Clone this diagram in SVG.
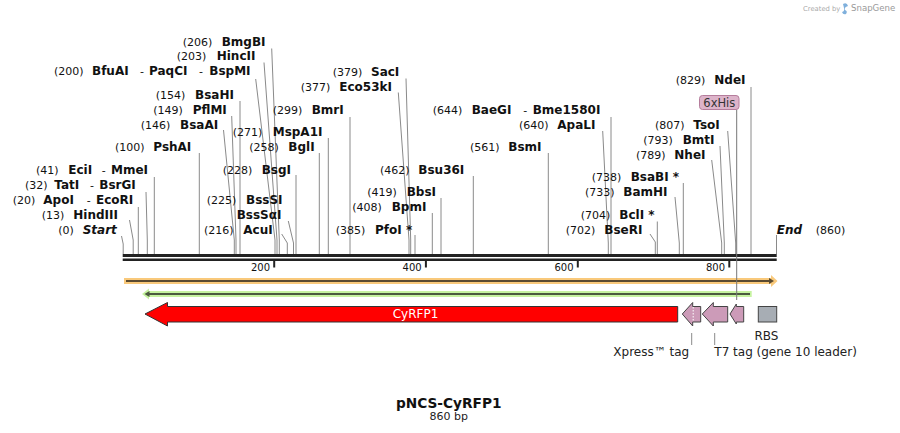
<svg xmlns="http://www.w3.org/2000/svg" width="900" height="433" viewBox="0 0 900 433">
<style>
text{font-family:"DejaVu Sans","Liberation Sans",sans-serif;fill:#111}
.n{font-size:11px}
.b{font-size:12px;font-weight:bold}
.bi{font-size:12px;font-weight:bold;font-style:italic}
.ax{font-size:10px}
.cut{stroke:#8a8a8a;stroke-width:1;fill:none}
.ft{fill:#cc9bb8;stroke:#444;stroke-width:1}
.fl{font-size:12px;fill:#222}
.tick{stroke:#222;stroke-width:2}
</style>
<rect width="900" height="433" fill="#fff"/>
<g id="credit">
<text x="803" y="11" style="font-size:6.8px;fill:#aaa">Created by</text>
<path d="M843 4 q4 -2 5 2 q-4 1 -3 4 q3 1 1 4 q-3 1 -4 -2 q3 -1 2 -4 z" fill="#7fb0dc"/>
<text x="851" y="11" style="font-size:8.6px;fill:#9a9a9a">SnapGene</text>
</g>
<g id="connectors">
<polyline class="cut" points="121.5,236 123.2,244 123.2,254"/>
<polyline class="cut" points="129.5,220 133.2,240 133.2,254"/>
<polyline class="cut" points="138.3,207 138.3,254"/>
<polyline class="cut" points="146,192 147.3,240 147.3,254"/>
<polyline class="cut" points="154.3,177 154.3,254"/>
<polyline class="cut" points="199.3,153 199.3,254"/>
<polyline class="cut" points="223.5,130 234.3,240 234.3,254"/>
<polyline class="cut" points="231.7,116 236,240 236,254"/>
<polyline class="cut" points="240,101 240,254"/>
<polyline class="cut" points="255.7,79 275,240 275,254"/>
<polyline class="cut" points="264,62.5 277,240 277,254"/>
<polyline class="cut" points="271.7,48.5 279.3,240 279.3,254"/>
<polyline class="cut" points="281.7,234 287.3,243 287.3,254"/>
<polyline class="cut" points="288.3,221 293.5,243 293.5,254"/>
<polyline class="cut" points="296,175 296,254"/>
<polyline class="cut" points="319.3,153 319.3,254"/>
<polyline class="cut" points="328.3,138 328.3,254"/>
<polyline class="cut" points="350,117 350,254"/>
<polyline class="cut" points="398.3,92.5 409,240 409,254"/>
<polyline class="cut" points="406,78.5 410.7,240 410.7,254"/>
<polyline class="cut" points="415,235 415,254"/>
<polyline class="cut" points="432.3,213 432.3,254"/>
<polyline class="cut" points="441,198 441,254"/>
<polyline class="cut" points="473.3,176 473.3,254"/>
<polyline class="cut" points="548.3,153 548.3,254"/>
<polyline class="cut" points="602.7,131 608.3,243 608.3,254"/>
<polyline class="cut" points="611,117 611,254"/>
<polyline class="cut" points="650,234 655.3,242 655.3,254"/>
<polyline class="cut" points="657.3,221.5 657.3,254"/>
<polyline class="cut" points="675,197 679.3,243 679.3,254"/>
<polyline class="cut" points="683.3,183 683.3,254"/>
<polyline class="cut" points="711.7,160 721.7,243 721.7,254"/>
<polyline class="cut" points="720,146 724.3,243 724.3,254"/>
<polyline class="cut" points="727.7,131 735.7,243 735.7,254"/>
<polyline class="cut" points="751,87 751,254"/>
<polyline class="cut" points="776.5,235 776.5,254"/>
<line class="cut" x1="691.7" y1="333" x2="691.7" y2="345"/>
<line class="cut" x1="714.7" y1="333" x2="714.7" y2="345"/>
</g>
<g id="backbone">
<rect x="122.7" y="254" width="654" height="3" fill="#222"/>
<rect x="122.7" y="258.5" width="654" height="2.5" fill="#222"/>
<line class="tick" x1="274.2" y1="261" x2="274.2" y2="267.5"/>
<line class="tick" x1="425.9" y1="261" x2="425.9" y2="267.5"/>
<line class="tick" x1="577.8" y1="261" x2="577.8" y2="267.5"/>
<line class="tick" x1="729.3" y1="261" x2="729.3" y2="267.5"/>
<text class="ax" x="270" y="271" text-anchor="end">200</text>
<text class="ax" x="421.7" y="271" text-anchor="end">400</text>
<text class="ax" x="573.6" y="271" text-anchor="end">600</text>
<text class="ax" x="725.1" y="271" text-anchor="end">800</text>
</g>
<g id="orf-forward">
<polygon points="124,278 771,278 771,275 777.5,281 771,287 771,284 124,284" fill="#f9c97b"/>
<line x1="126" y1="281" x2="771" y2="281" stroke="#5a4a30" stroke-width="2"/>
<polygon points="769,278 774,281 769,284" fill="#5a4a30"/>
</g>
<g id="orf-reverse">
<polygon points="142,294 149,288.5 149,291 751.7,291 751.7,297 149,297 149,299.5" fill="#c6f3a0"/>
<line x1="148" y1="294" x2="750" y2="294" stroke="#4b5a3f" stroke-width="2"/>
<polygon points="144.5,294 149.5,291 149.5,297" fill="#4b5a3f"/>
</g>
<g id="CyRFP1">
<polygon points="145,314 167.5,302.5 167.5,306.5 677.7,306.5 677.7,322 167.5,322 167.5,326" fill="#ff0000" stroke="#333" stroke-width="1"/>
<text x="415.5" y="318" text-anchor="middle" style="font-size:12px;fill:#fff">CyRFP1</text>
</g>
<g id="xpress-tag">
<polygon class="ft" points="682.3,314 692.7,302.5 692.7,306.5 700.7,306.5 700.7,322 692.7,322 692.7,326"/>
<line x1="693.2" y1="307" x2="693.2" y2="321.5" stroke="#fff" stroke-width="1" stroke-dasharray="1.5,1.5"/>
<text class="fl" x="613.3" y="356">Xpress™ tag</text>
</g>
<g id="t7-tag">
<polygon class="ft" points="702.3,314 713.3,302.5 713.3,306.5 727.7,306.5 727.7,322 713.3,322 713.3,326"/>
<text class="fl" x="714.3" y="356">T7 tag (gene 10 leader)</text>
</g>
<g id="his-tag">
<polygon class="ft" points="730,314 736.3,304 736.3,306.5 743.7,306.5 743.7,322 736.3,322 736.3,324"/>
<line x1="736.7" y1="109.5" x2="736.7" y2="300" stroke="#777" stroke-width="1"/>
<rect x="699.5" y="95.5" width="39.5" height="14" rx="3" fill="#ddb4ca" stroke="#b57d9c" stroke-width="1"/>
<text x="719.3" y="107" text-anchor="middle" style="font-size:11.5px;fill:#333">6xHis</text>
</g>
<g id="RBS">
<rect x="758.3" y="306.5" width="18.4" height="15.5" fill="#a7adb4" stroke="#444" stroke-width="1"/>
<text class="fl" x="766.5" y="340" text-anchor="middle">RBS</text>
</g>
<g id="site-BmgBI"><text class="n" x="182.7" y="46">(206)</text><text class="b" x="221.7" y="46">BmgBI</text></g>
<g id="site-HincII"><text class="n" x="176.7" y="60">(203)</text><text class="b" x="216.7" y="60">HincII</text></g>
<g id="site-BfuAI"><text class="n" x="54" y="75">(200)</text><text class="b" x="92" y="75">BfuAI</text><text class="n" x="140" y="75">-</text><text class="b" x="149" y="75">PaqCI</text><text class="n" x="199" y="75">-</text><text class="b" x="209.3" y="75">BspMI</text></g>
<g id="site-BsaHI"><text class="n" x="155.7" y="99">(154)</text><text class="b" x="195" y="99">BsaHI</text></g>
<g id="site-PflMI"><text class="n" x="153.3" y="113.5">(149)</text><text class="b" x="192.7" y="113.5">PflMI</text></g>
<g id="site-BsaAI"><text class="n" x="140.7" y="128.5">(146)</text><text class="b" x="180" y="128.5">BsaAI</text></g>
<g id="site-MspA1I"><text class="n" x="232.7" y="135.5">(271)</text><text class="b" x="272.7" y="135.5">MspA1I</text></g>
<g id="site-BglI"><text class="n" x="249.3" y="150.5">(258)</text><text class="b" x="288.3" y="150.5">BglI</text></g>
<g id="site-PshAI"><text class="n" x="115" y="150.5">(100)</text><text class="b" x="153.3" y="150.5">PshAI</text></g>
<g id="site-EciI"><text class="n" x="36" y="174">(41)</text><text class="b" x="68.3" y="174">EciI</text><text class="n" x="101.7" y="174">-</text><text class="b" x="111" y="174">MmeI</text></g>
<g id="site-BsgI"><text class="n" x="222.7" y="174">(228)</text><text class="b" x="261.7" y="174">BsgI</text></g>
<g id="site-TatI"><text class="n" x="25" y="188.5">(32)</text><text class="b" x="54.3" y="188.5">TatI</text><text class="n" x="90" y="188.5">-</text><text class="b" x="99.3" y="188.5">BsrGI</text></g>
<g id="site-ApoI"><text class="n" x="12.7" y="203.5">(20)</text><text class="b" x="43.3" y="203.5">ApoI</text><text class="n" x="86.7" y="203.5">-</text><text class="b" x="96" y="203.5">EcoRI</text></g>
<g id="site-BssSI"><text class="n" x="206.7" y="203.5">(225)</text><text class="b" x="246" y="203.5">BssSI</text><text class="b" x="236.7" y="218.5">BssSαI</text></g>
<g id="site-HindIII"><text class="n" x="41.7" y="218.5">(13)</text><text class="b" x="73.3" y="218.5">HindIII</text></g>
<g id="site-Start"><text class="n" x="58.3" y="233.5">(0)</text><text class="bi" x="82.7" y="233.5">Start</text></g>
<g id="site-AcuI"><text class="n" x="204" y="233.5">(216)</text><text class="b" x="243.3" y="233.5">AcuI</text></g>
<g id="site-SacI"><text class="n" x="332.7" y="76">(379)</text><text class="b" x="371" y="76">SacI</text></g>
<g id="site-Eco53kI"><text class="n" x="300.7" y="91">(377)</text><text class="b" x="339.3" y="91">Eco53kI</text></g>
<g id="site-BmrI"><text class="n" x="272.7" y="114">(299)</text><text class="b" x="311.7" y="114">BmrI</text></g>
<g id="site-Bsu36I"><text class="n" x="380" y="174">(462)</text><text class="b" x="418.3" y="174">Bsu36I</text></g>
<g id="site-BbsI"><text class="n" x="367.3" y="196">(419)</text><text class="b" x="406.7" y="196">BbsI</text></g>
<g id="site-BpmI"><text class="n" x="352.3" y="211">(408)</text><text class="b" x="391.7" y="211">BpmI</text></g>
<g id="site-PfoI"><text class="n" x="335.7" y="233.5">(385)</text><text class="b" x="375" y="233.5">PfoI *</text></g>
<g id="site-BaeGI"><text class="n" x="432.7" y="114">(644)</text><text class="b" x="471.7" y="114">BaeGI</text><text class="n" x="523.3" y="114">-</text><text class="b" x="532.7" y="114">Bme1580I</text></g>
<g id="site-ApaLI"><text class="n" x="519" y="128.5">(640)</text><text class="b" x="557.3" y="128.5">ApaLI</text></g>
<g id="site-BsmI"><text class="n" x="470" y="151">(561)</text><text class="b" x="508.3" y="151">BsmI</text></g>
<g id="site-NdeI"><text class="n" x="675.7" y="84">(829)</text><text class="b" x="714.3" y="84">NdeI</text></g>
<g id="site-TsoI"><text class="n" x="655" y="129">(807)</text><text class="b" x="693.3" y="129">TsoI</text></g>
<g id="site-BmtI"><text class="n" x="643.3" y="144">(793)</text><text class="b" x="682.7" y="144">BmtI</text></g>
<g id="site-NheI"><text class="n" x="636" y="159">(789)</text><text class="b" x="674.3" y="159">NheI</text></g>
<g id="site-BsaBI"><text class="n" x="591.7" y="181">(738)</text><text class="b" x="630.7" y="181">BsaBI *</text></g>
<g id="site-BamHI"><text class="n" x="585" y="196">(733)</text><text class="b" x="623.3" y="196">BamHI</text></g>
<g id="site-BclI"><text class="n" x="580.7" y="218.5">(704)</text><text class="b" x="619.3" y="218.5">BclI *</text></g>
<g id="site-BseRI"><text class="n" x="565.7" y="233.5">(702)</text><text class="b" x="604.3" y="233.5">BseRI</text></g>
<g id="site-End"><text class="bi" x="776.7" y="233.5">End</text><text class="n" x="815.7" y="233.5">(860)</text></g>
<g id="title">
<text x="448.7" y="407.5" text-anchor="middle" style="font-size:13.7px;font-weight:bold">pNCS-CyRFP1</text>
<text x="448.7" y="420" text-anchor="middle" style="font-size:11px;fill:#222">860 bp</text>
</g>
</svg>
